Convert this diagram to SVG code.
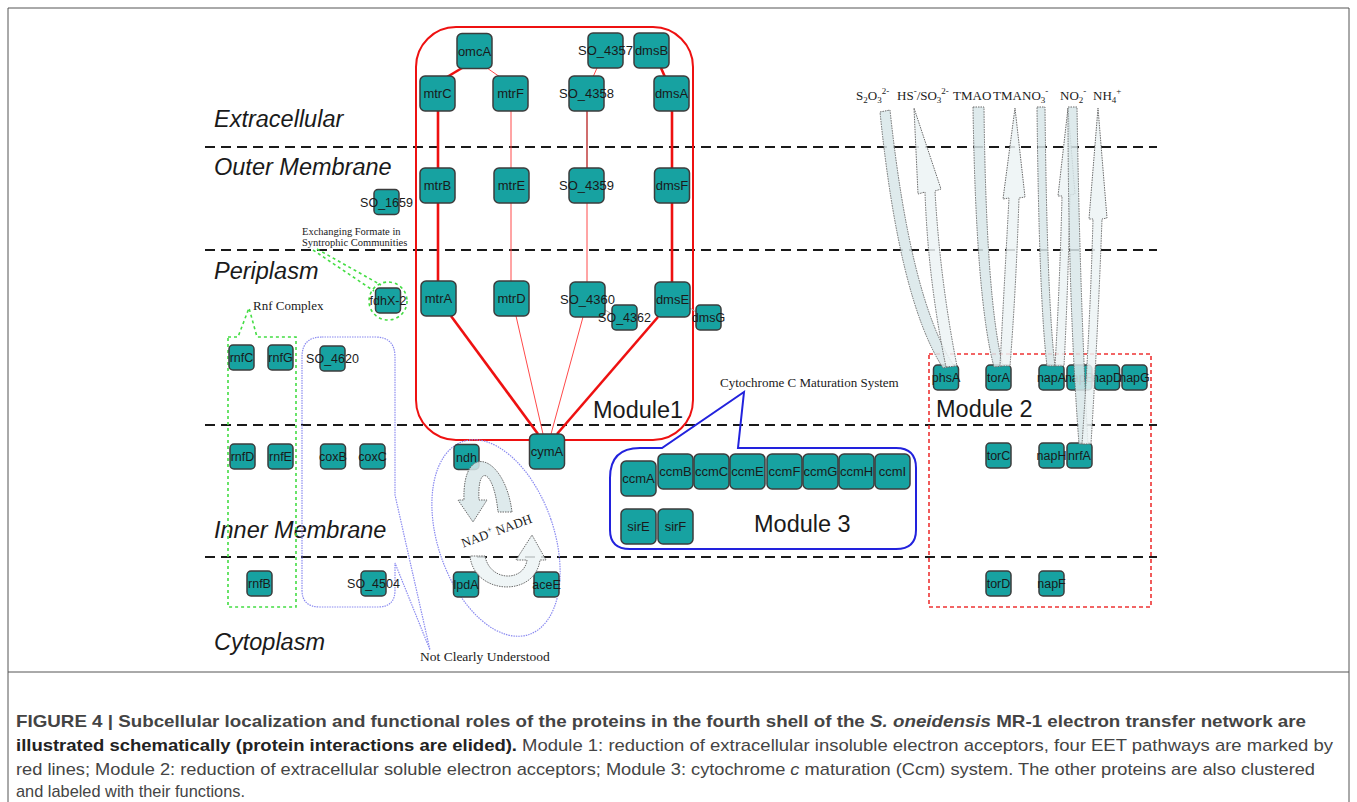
<svg xmlns="http://www.w3.org/2000/svg" width="1357" height="802" viewBox="0 0 1357 802">
<style>
.n rect{fill:#17a2a1;stroke:#3c3c3c;stroke-width:1.5}
.n text{font-family:"Liberation Sans",Arial,sans-serif;font-size:13px;fill:#1a1a1a;text-anchor:middle}
.s text{font-size:12.5px}
.zone{font-family:"Liberation Sans",Arial,sans-serif;font-style:italic;font-size:23.5px;fill:#1a1a1a}
.mod{font-family:"Liberation Sans",Arial,sans-serif;font-size:23.5px;fill:#1a1a1a}
.ser{font-family:"Liberation Serif","Times New Roman",serif;fill:#1a1a1a}
.sep{stroke:#1a1a1a;stroke-width:2;stroke-dasharray:10 6;fill:none}
.thick{stroke:#ee1111;stroke-width:2.6;fill:none}
.thin{stroke:#ff4a4a;stroke-width:1;fill:none}
.blk{fill:#d8e6e9;fill-opacity:0.85;stroke:#6a6a6a;stroke-width:1;stroke-dasharray:1.5 1}
.out{fill:#ecf3f4;fill-opacity:0.85;stroke:#6a6a6a;stroke-width:1;stroke-dasharray:1.5 1}
.cap{font-family:"Liberation Sans",Arial,sans-serif;font-size:17px;fill:#444}
</style>

<!-- frame -->
<g id="frame" fill="none" stroke="#555" stroke-width="1">
<line x1="8" y1="8" x2="1349" y2="8"/>
<line x1="8" y1="8" x2="8" y2="802"/>
<line x1="1349" y1="8" x2="1349" y2="802"/>
<line x1="8" y1="672" x2="1349" y2="672"/>
</g>

<!-- separators -->
<g id="separators">
<line class="sep" x1="205" y1="147" x2="1157" y2="147"/>
<line class="sep" x1="205" y1="250" x2="1157" y2="250"/>
<line class="sep" x1="205" y1="425" x2="1157" y2="425"/>
<line class="sep" x1="205" y1="557" x2="1157" y2="557"/>
</g>

<!-- zone labels -->
<g id="zones">
<text class="zone" x="214" y="127">Extracellular</text>
<text class="zone" x="214" y="175">Outer Membrane</text>
<text class="zone" x="214" y="279">Periplasm</text>
<text class="zone" x="214" y="538">Inner Membrane</text>
<text class="zone" x="214" y="650">Cytoplasm</text>
</g>

<!-- groupings -->
<g id="module1">
<rect x="416" y="27" width="277" height="413" rx="40" fill="none" stroke="#ee1111" stroke-width="2"/>
<text class="mod" x="593" y="418">Module1</text>
</g>
<g id="module2">
<rect x="929" y="354" width="222" height="253" fill="none" stroke="#ee3333" stroke-width="1.6" stroke-dasharray="4 3"/>
<text class="mod" x="936" y="417">Module 2</text>
</g>
<g id="module3">
<path d="M640,448 L662,448 L744,392 L738,448 L896,448 Q916,448 916,468 L916,530 Q916,549 896,549 L630,549 Q610,549 610,530 L610,478 Q610,448 640,448 Z" fill="none" stroke="#2222dd" stroke-width="2"/>
<text class="ser" x="720" y="387" font-size="13">Cytochrome C Maturation System</text>
<text class="mod" x="754" y="532">Module 3</text>
</g>
<g id="rnf-complex">
<path d="M228,337 L238,337 L249,308 L257,337 L296,337 L296,607 L228,607 Z" fill="none" stroke="#44dd44" stroke-width="1.6" stroke-dasharray="3 3"/>
<text class="ser" x="253" y="310" font-size="13">Rnf Complex</text>
</g>
<g id="formate">
<circle cx="388" cy="301" r="19" fill="none" stroke="#44dd44" stroke-width="1.6" stroke-dasharray="3 3"/>
<path d="M313,250 L374,291 M317,249 L381,285" fill="none" stroke="#44dd44" stroke-width="1.6" stroke-dasharray="3 3"/>
<text class="ser" x="302" y="235" font-size="10.5">Exchanging Formate in</text>
<text class="ser" x="302" y="246" font-size="10.5">Syntrophic Communities</text>
</g>
<g id="unclear">
<path d="M322,337 L375,337 Q395,337 395,357 L395,495 L430,650 L395,563 L395,590 Q395,607 378,607 L320,607 Q302,607 302,590 L302,357 Q302,337 322,337 Z" fill="none" stroke="#8a8af0" stroke-width="1.2" stroke-dasharray="1.5 1"/>
<text class="ser" x="420" y="661" font-size="13.5">Not Clearly Understood</text>
</g>
<g id="nad-cycle">
<ellipse cx="496" cy="538" rx="58" ry="102" transform="rotate(-19 496 538)" fill="none" stroke="#8a8af0" stroke-width="1.2" stroke-dasharray="1.5 1"/>
</g>

<!-- connectors -->
<g id="connectors">
<line class="thick" x1="462" y1="68" x2="447" y2="77"/>
<line class="thin" x1="487" y1="68" x2="500" y2="77"/>
<line class="thin" x1="597" y1="68" x2="593" y2="77"/>
<line class="thick" x1="661" y1="68" x2="665" y2="77"/>
<line class="thick" x1="438" y1="111" x2="438" y2="168"/>
<line class="thin" x1="511" y1="111" x2="511" y2="168"/>
<line x1="587" y1="111" x2="587" y2="168" stroke="#c03c3c" stroke-width="1.5"/>
<line class="thick" x1="672" y1="111" x2="672" y2="168"/>
<line class="thick" x1="438" y1="203" x2="438" y2="281"/>
<line class="thin" x1="511" y1="203" x2="511" y2="281"/>
<line class="thin" x1="587" y1="203" x2="587" y2="282"/>
<line class="thick" x1="672" y1="203" x2="672" y2="282"/>
<line class="thick" x1="451" y1="316" x2="538" y2="434"/>
<line class="thin" x1="516" y1="316" x2="543" y2="434"/>
<line class="thin" x1="583" y1="317" x2="551" y2="434"/>
<line class="thick" x1="658" y1="317" x2="557" y2="434"/>
<line x1="605" y1="310" x2="612" y2="314" stroke="#aaa" stroke-width="1"/>
<line x1="690" y1="308" x2="696" y2="312" stroke="#aaa" stroke-width="1"/>
</g>

<!-- nodes -->
<g id="n-omcA" class="n"><rect x="457" y="33.5" width="35" height="35" rx="5"/><text x="474.5" y="55.5">omcA</text></g>
<g id="n-mtrC" class="n"><rect x="420" y="76" width="35" height="35" rx="5"/><text x="437.5" y="98">mtrC</text></g>
<g id="n-mtrF" class="n"><rect x="493" y="76" width="35" height="35" rx="5"/><text x="510.5" y="98">mtrF</text></g>
<g id="n-SO_4358" class="n"><rect x="569" y="76" width="35" height="35" rx="5"/><text x="586.5" y="98">SO_4358</text></g>
<g id="n-SO_4357" class="n"><rect x="588" y="33" width="35" height="35" rx="5"/><text x="605.5" y="55">SO_4357</text></g>
<g id="n-dmsB" class="n"><rect x="634" y="33" width="35" height="35" rx="5"/><text x="651.5" y="55">dmsB</text></g>
<g id="n-dmsA" class="n"><rect x="654" y="76" width="35" height="35" rx="5"/><text x="671.5" y="98">dmsA</text></g>
<g id="n-mtrB" class="n"><rect x="420" y="168" width="35" height="35" rx="5"/><text x="437.5" y="190">mtrB</text></g>
<g id="n-mtrE" class="n"><rect x="494" y="168" width="35" height="35" rx="5"/><text x="511.5" y="190">mtrE</text></g>
<g id="n-SO_4359" class="n"><rect x="569" y="168" width="35" height="35" rx="5"/><text x="586.5" y="190">SO_4359</text></g>
<g id="n-dmsF" class="n"><rect x="654.5" y="168" width="35" height="35" rx="5"/><text x="672" y="190">dmsF</text></g>
<g id="n-mtrA" class="n"><rect x="421" y="281" width="35" height="35" rx="5"/><text x="438.5" y="303">mtrA</text></g>
<g id="n-mtrD" class="n"><rect x="494" y="281" width="35" height="35" rx="5"/><text x="511.5" y="303">mtrD</text></g>
<g id="n-SO_4360" class="n"><rect x="570" y="282" width="35" height="35" rx="5"/><text x="587.5" y="304">SO_4360</text></g>
<g id="n-dmsE" class="n"><rect x="655" y="282" width="35" height="35" rx="5"/><text x="672.5" y="304">dmsE</text></g>
<g id="n-SO_4362" class="n s"><rect x="612" y="305" width="25" height="25" rx="4"/><text x="624.5" y="322">SO_4362</text></g>
<g id="n-dmsG" class="n s"><rect x="696" y="305" width="25" height="25" rx="4"/><text x="708.5" y="322">dmsG</text></g>
<g id="n-cymA" class="n"><rect x="529.5" y="434" width="35" height="35" rx="5"/><text x="547" y="456">cymA</text></g>
<g id="n-ndh" class="n s"><rect x="454" y="444.5" width="25" height="25" rx="4"/><text x="466.5" y="461.5">ndh</text></g>
<g id="n-lpdA" class="n s"><rect x="453.5" y="572" width="25" height="25" rx="4"/><text x="466" y="589">lpdA</text></g>
<g id="n-aceE" class="n s"><rect x="534" y="572" width="25" height="25" rx="4"/><text x="546.5" y="589">aceE</text></g>
<g id="n-SO_1659" class="n s"><rect x="374" y="189.5" width="25" height="25" rx="4"/><text x="386.5" y="206.5">SO_1659</text></g>
<g id="n-fdhX-2" class="n s"><rect x="375.5" y="288" width="25" height="25" rx="4"/><text x="388" y="305">fdhX-2</text></g>
<g id="n-rnfC" class="n s"><rect x="229" y="345" width="25" height="25" rx="4"/><text x="241.5" y="362">rnfC</text></g>
<g id="n-rnfG" class="n s"><rect x="268" y="345" width="25" height="25" rx="4"/><text x="280.5" y="362">rnfG</text></g>
<g id="n-SO_4620" class="n s"><rect x="320" y="346" width="25" height="25" rx="4"/><text x="332.5" y="363">SO_4620</text></g>
<g id="n-rnfD" class="n s"><rect x="230" y="444" width="25" height="25" rx="4"/><text x="242.5" y="461">rnfD</text></g>
<g id="n-rnfE" class="n s"><rect x="268" y="444" width="25" height="25" rx="4"/><text x="280.5" y="461">rnfE</text></g>
<g id="n-coxB" class="n s"><rect x="320.5" y="444" width="25" height="25" rx="4"/><text x="333" y="461">coxB</text></g>
<g id="n-coxC" class="n s"><rect x="360" y="444" width="25" height="25" rx="4"/><text x="372.5" y="461">coxC</text></g>
<g id="n-rnfB" class="n s"><rect x="247" y="571" width="25" height="25" rx="4"/><text x="259.5" y="588">rnfB</text></g>
<g id="n-SO_4504" class="n s"><rect x="361" y="571" width="25" height="25" rx="4"/><text x="373.5" y="588">SO_4504</text></g>
<g id="n-ccmA" class="n"><rect x="621" y="461" width="35" height="35" rx="5"/><text x="638.5" y="483">ccmA</text></g>
<g id="n-ccmB" class="n"><rect x="658" y="454" width="35" height="35" rx="5"/><text x="675.5" y="476">ccmB</text></g>
<g id="n-ccmC" class="n"><rect x="694" y="454" width="35" height="35" rx="5"/><text x="711.5" y="476">ccmC</text></g>
<g id="n-ccmE" class="n"><rect x="730" y="454" width="35" height="35" rx="5"/><text x="747.5" y="476">ccmE</text></g>
<g id="n-ccmF" class="n"><rect x="767" y="454" width="35" height="35" rx="5"/><text x="784.5" y="476">ccmF</text></g>
<g id="n-ccmG" class="n"><rect x="803" y="454" width="35" height="35" rx="5"/><text x="820.5" y="476">ccmG</text></g>
<g id="n-ccmH" class="n"><rect x="839" y="454" width="35" height="35" rx="5"/><text x="856.5" y="476">ccmH</text></g>
<g id="n-ccmI" class="n"><rect x="875" y="454" width="35" height="35" rx="5"/><text x="892.5" y="476">ccmI</text></g>
<g id="n-sirE" class="n"><rect x="621" y="509" width="35" height="35" rx="5"/><text x="638.5" y="531">sirE</text></g>
<g id="n-sirF" class="n"><rect x="658" y="509" width="35" height="35" rx="5"/><text x="675.5" y="531">sirF</text></g>
<g id="n-phsA" class="n s"><rect x="933.5" y="365" width="25" height="25" rx="4"/><text x="946" y="382">phsA</text></g>
<g id="n-torA" class="n s"><rect x="986" y="365" width="25" height="25" rx="4"/><text x="998.5" y="382">torA</text></g>
<g id="n-napA" class="n s"><rect x="1039" y="365" width="25" height="25" rx="4"/><text x="1051.5" y="382">napA</text></g>
<g id="n-napB" class="n s"><rect x="1067" y="365" width="25" height="25" rx="4"/><text x="1079.5" y="382">napB</text></g>
<g id="n-napD" class="n s"><rect x="1094.5" y="365" width="25" height="25" rx="4"/><text x="1107" y="382">napD</text></g>
<g id="n-napG" class="n s"><rect x="1122" y="365" width="25" height="25" rx="4"/><text x="1134.5" y="382">napG</text></g>
<g id="n-torC" class="n s"><rect x="986" y="443" width="25" height="25" rx="4"/><text x="998.5" y="460">torC</text></g>
<g id="n-napH" class="n s"><rect x="1039" y="443" width="25" height="25" rx="4"/><text x="1051.5" y="460">napH</text></g>
<g id="n-nrfA" class="n s"><rect x="1067" y="443" width="25" height="25" rx="4"/><text x="1079.5" y="460">nrfA</text></g>
<g id="n-torD" class="n s"><rect x="986" y="571" width="25" height="25" rx="4"/><text x="998.5" y="588">torD</text></g>
<g id="n-napF" class="n s"><rect x="1039" y="571" width="25" height="25" rx="4"/><text x="1051.5" y="588">napF</text></g>

<!-- substrate flow arrows -->
<g id="flow-arrows">
<path class="blk" d="M880,112 L890,110 Q910,298 954,366 L943,368 Q899,300 880,112 Z"/>
<path class="out" d="M946,367 Q928,280 925,192 L918,194 L914,108 L941,189 L935,191 Q940,280 957,366 Z"/>
<path class="blk" d="M973,107 L984,107 Q986,300 1003,366 L994,367 Q976,300 973,107 Z"/>
<path class="out" d="M1000,366 Q1004,290 1009,198 L1003,199 L1015,108 L1025,197 L1019,198 Q1016,290 1010,366 Z"/>
<path class="blk" d="M1037,107 L1045,107 Q1047,300 1055,366 L1047,366 Q1039,300 1037,107 Z"/>
<path class="out" d="M1055,366 Q1060,280 1062,196 L1058,196 L1068,108 L1075,194 L1070,195 Q1068,290 1064,366 Z"/>
<path class="blk" d="M1068,107 L1077,107 Q1080,300 1088,444 L1079,444 Q1068,300 1068,107 Z"/>
<path class="out" d="M1082,444 Q1090,330 1093,219 L1089,219 L1098,108 L1107,218 L1102,219 Q1098,330 1091,444 Z"/>
<path class="blk" d="M512,512 C505,455 462,440 464,500 L458,500 L473,522 L487,500 L479,500 C477,462 494,470 498,512 Z"/>
<path class="out" d="M470,556 C474,595 535,598 540,560 L546,560 L532,535 L516,560 L527,560 C524,582 490,582 485,556 Z"/>
</g>

<!-- substrate labels -->
<g id="ion-labels" class="ser" font-size="13">
<text x="856" y="100">S<tspan font-size="9" dy="3">2</tspan><tspan dy="-3">O</tspan><tspan font-size="9" dy="3">3</tspan><tspan font-size="9" dy="-9">2-</tspan></text>
<text x="897" y="100">HS<tspan font-size="9" dy="-6">-</tspan><tspan dy="6">/SO</tspan><tspan font-size="9" dy="3">3</tspan><tspan font-size="9" dy="-9">2-</tspan></text>
<text x="953" y="100">TMAO</text>
<text x="993" y="100">TMA</text>
<text x="1022" y="100">NO<tspan font-size="9" dy="3">3</tspan><tspan font-size="9" dy="-9">-</tspan></text>
<text x="1060" y="100">NO<tspan font-size="9" dy="3">2</tspan><tspan font-size="9" dy="-9">-</tspan></text>
<text x="1093" y="100">NH<tspan font-size="9" dy="3">4</tspan><tspan font-size="9" dy="-9">+</tspan></text>
<text x="498" y="535" text-anchor="middle" transform="rotate(-20 498 535)">NAD<tspan font-size="9" dy="-5">+</tspan><tspan dy="5"> NADH</tspan></text>
</g>

<!-- caption -->
<g id="caption">
<text class="cap" x="16" y="727" textLength="1290" lengthAdjust="spacingAndGlyphs" font-weight="bold" fill="#222">FIGURE 4 | Subcellular localization and functional roles of the proteins in the fourth shell of the <tspan font-style="italic">S. oneidensis</tspan> MR-1 electron transfer network are</text>
<text class="cap" x="16" y="751" textLength="1317" lengthAdjust="spacingAndGlyphs"><tspan font-weight="bold" fill="#222">illustrated schematically (protein interactions are elided).</tspan> Module 1: reduction of extracellular insoluble electron acceptors, four EET pathways are marked by</text>
<text class="cap" x="16" y="775" textLength="1299" lengthAdjust="spacingAndGlyphs">red lines; Module 2: reduction of extracellular soluble electron acceptors; Module 3: cytochrome <tspan font-style="italic">c</tspan> maturation (Ccm) system. The other proteins are also clustered</text>
<text class="cap" x="16" y="797" textLength="229" lengthAdjust="spacingAndGlyphs">and labeled with their functions.</text>
</g>
</svg>
